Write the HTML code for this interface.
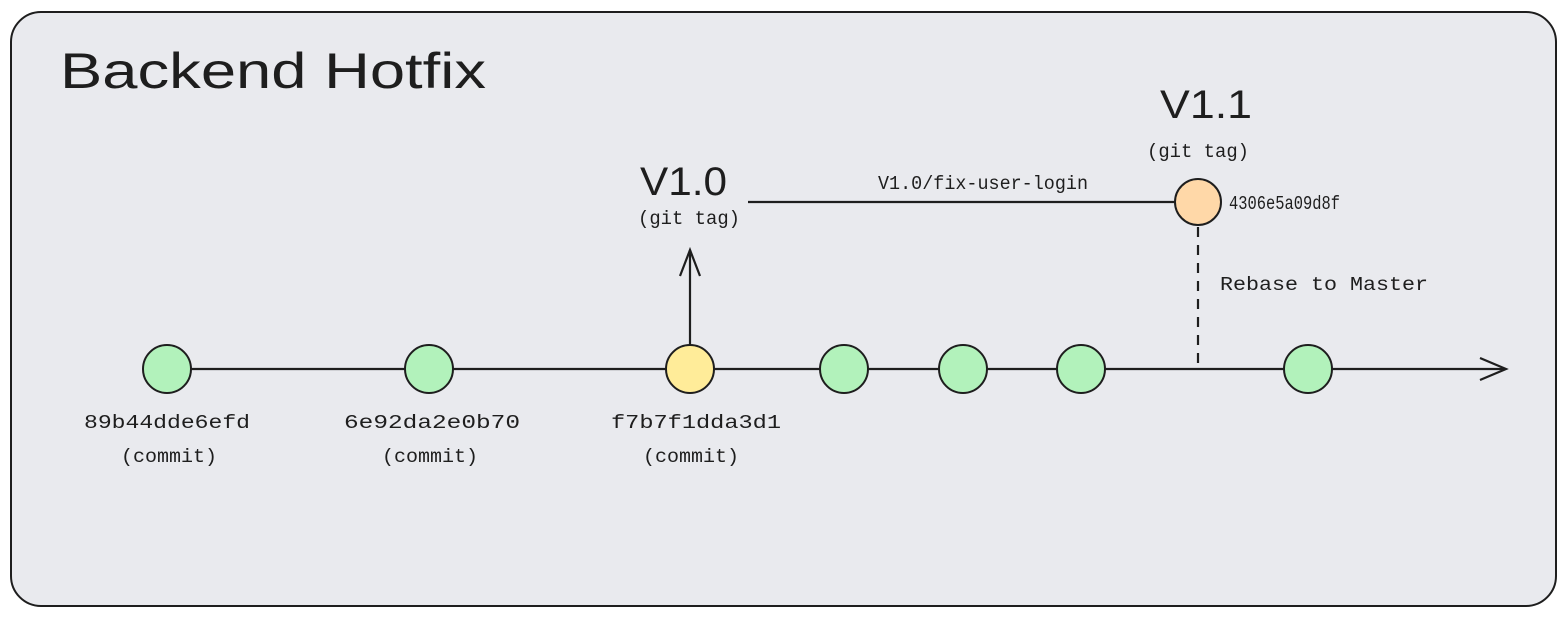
<!DOCTYPE html>
<html><head><style>
html,body{margin:0;padding:0;background:#fff;}
svg{display:block}
</style></head><body>
<svg width="1568" height="618" viewBox="0 0 1568 618" xmlns="http://www.w3.org/2000/svg">
<rect x="11" y="12" width="1545" height="594" rx="30" fill="#e9eaee" stroke="#1e1e1e" stroke-width="2"/>
<g stroke="#1e1e1e" stroke-width="2.2" fill="none">
<line x1="190" y1="369" x2="1505" y2="369"/>
<polyline points="1480,358 1506,369 1480,380"/>
<line x1="690" y1="345" x2="690" y2="250"/>
<polyline points="680,276 690,250 700,276"/>
<line x1="748" y1="202" x2="1175" y2="202"/>
<line x1="1198" y1="227" x2="1198" y2="369" stroke-dasharray="10,8"/>
</g>
<g stroke="#1e1e1e" stroke-width="2">
<circle cx="167" cy="369" r="24" fill="#b2f2bb"/>
<circle cx="429" cy="369" r="24" fill="#b2f2bb"/>
<circle cx="690" cy="369" r="24" fill="#ffec99"/>
<circle cx="844" cy="369" r="24" fill="#b2f2bb"/>
<circle cx="963" cy="369" r="24" fill="#b2f2bb"/>
<circle cx="1081" cy="369" r="24" fill="#b2f2bb"/>
<circle cx="1308" cy="369" r="24" fill="#b2f2bb"/>
<circle cx="1198" cy="202" r="23" fill="#ffd8a8"/>
</g>
<g fill="#1e1e1e" font-family="Liberation Mono, monospace">
<text x="60" y="88" font-size="50" font-family="Liberation Sans, sans-serif" textLength="426" lengthAdjust="spacingAndGlyphs">Backend Hotfix</text>
<g font-size="19">
<text x="84" y="428" textLength="166" lengthAdjust="spacingAndGlyphs">89b44dde6efd</text>
<text x="121" y="462" textLength="96" lengthAdjust="spacingAndGlyphs">(commit)</text>
<text x="344" y="428" textLength="176" lengthAdjust="spacingAndGlyphs">6e92da2e0b70</text>
<text x="382" y="462" textLength="96" lengthAdjust="spacingAndGlyphs">(commit)</text>
<text x="611" y="428" textLength="170" lengthAdjust="spacingAndGlyphs">f7b7f1dda3d1</text>
<text x="643" y="462" textLength="96" lengthAdjust="spacingAndGlyphs">(commit)</text>
<text x="638" y="224" textLength="102" lengthAdjust="spacingAndGlyphs">(git tag)</text>
<text x="1147" y="157" textLength="102" lengthAdjust="spacingAndGlyphs">(git tag)</text>
<text x="878" y="189" textLength="210" lengthAdjust="spacingAndGlyphs">V1.0/fix-user-login</text>
<text x="1229" y="209" textLength="111" lengthAdjust="spacingAndGlyphs">4306e5a09d8f</text>
<text x="1220" y="290" textLength="208" lengthAdjust="spacingAndGlyphs">Rebase to Master</text>
</g>
<text x="640" y="195" font-size="40" font-family="Liberation Sans, sans-serif" textLength="87" lengthAdjust="spacingAndGlyphs">V1.0</text>
<text x="1160" y="118" font-size="40" font-family="Liberation Sans, sans-serif" textLength="92" lengthAdjust="spacingAndGlyphs">V1.1</text>
</g>
</svg>
</body></html>
